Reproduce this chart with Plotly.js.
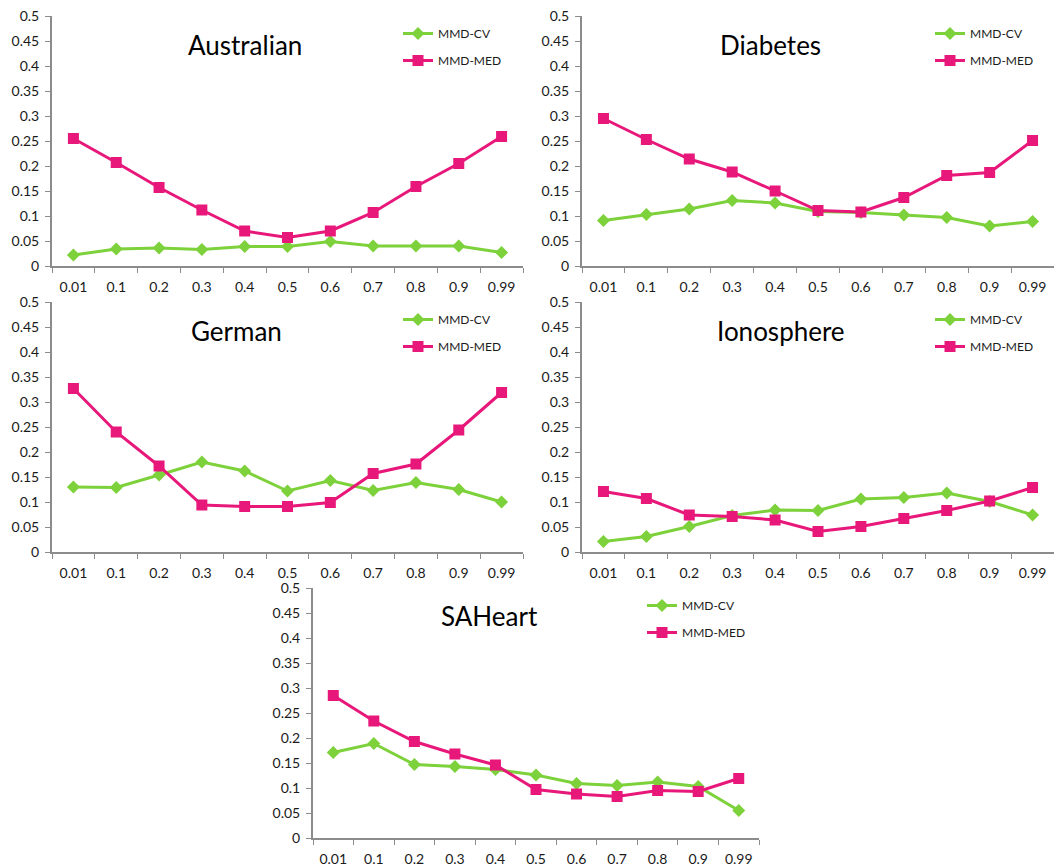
<!DOCTYPE html>
<html>
<head>
<meta charset="utf-8">
<script src="https://cdn.plot.ly/plotly-3.0.1.min.js"></script>
<style>html,body{margin:0;padding:0;background:#fff;}#chart{width:1055px;height:867px;}</style>
</head>
<body>
<div id="chart"></div>
<script>
const categories = ["0.01","0.1","0.2","0.3","0.4","0.5","0.6","0.7","0.8","0.9","0.99"];
const datasetNames = ["Australian","Diabetes","German","Ionosphere","SAHeart"];
const seriesNames = ["MMD-CV","MMD-MED"];

const australianCV  = [0.022,0.034,0.036,0.033,0.039,0.039,0.049,0.040,0.040,0.040,0.027];
const australianMED = [0.255,0.207,0.157,0.112,0.070,0.057,0.070,0.107,0.159,0.205,0.259];
const diabetesCV    = [0.091,0.103,0.114,0.131,0.126,0.109,0.107,0.102,0.097,0.080,0.089];
const diabetesMED   = [0.295,0.253,0.214,0.188,0.150,0.111,0.108,0.137,0.181,0.187,0.251];
const germanCV      = [0.130,0.129,0.154,0.180,0.162,0.122,0.143,0.123,0.139,0.125,0.100];
const germanMED     = [0.327,0.240,0.172,0.094,0.091,0.091,0.099,0.157,0.176,0.244,0.319];
const ionosphereCV  = [0.021,0.031,0.051,0.073,0.084,0.083,0.106,0.109,0.118,0.101,0.074];
const ionosphereMED = [0.121,0.107,0.074,0.071,0.064,0.041,0.051,0.067,0.083,0.102,0.129];
const saheartCV     = [0.171,0.189,0.147,0.143,0.137,0.126,0.109,0.105,0.112,0.103,0.055];
const saheartMED    = [0.285,0.234,0.193,0.168,0.146,0.097,0.088,0.083,0.095,0.093,0.119];

const yTickVals = [0,0.05,0.1,0.15,0.2,0.25,0.3,0.35,0.4,0.45,0.5];
const yTickText = ["0","0.05","0.1","0.15","0.2","0.25","0.3","0.35","0.4","0.45","0.5"];

const cvSeries  = [australianCV, diabetesCV, germanCV, ionosphereCV, saheartCV];
const medSeries = [australianMED, diabetesMED, germanMED, ionosphereMED, saheartMED];

const W = 1055, H = 867;
// panel pixel boxes: [left, right, top, bottom]
const boxes = [
  [52, 523, 16, 266],
  [582, 1054, 16, 266],
  [52, 523, 302, 552],
  [582, 1054, 302, 552],
  [313, 759, 588, 838]
];
const titlePos = [[245,45],[770,45],[236,331],[781,331],[489,616]];
const legendPos = [[398,19],[930,19],[398,305],[930,305],[642,591]];

const FONT = "Lato, 'Open Sans', sans-serif";
const GREEN = "#7DD13B";
const PINK = "#E8177A";
const AXIS = "#8C8C8C";

const traces = [];
const layout = {
  width: W, height: H,
  margin: {l:0, r:0, t:0, b:0},
  paper_bgcolor: "#fff", plot_bgcolor: "#fff",
  font: {family: FONT, size: 13, color: "#1a1a1a"},
  annotations: [],
  showlegend: true
};

for (let i = 0; i < 5; i++) {
  const b = boxes[i];
  const sfx = i === 0 ? "" : String(i + 1);
  const xa = "x" + sfx, ya = "y" + sfx;
  const lg = "legend" + sfx;
  traces.push({
    type: "scatter", mode: "lines+markers", x: categories, y: cvSeries[i],
    name: seriesNames[0], xaxis: xa, yaxis: ya, legend: lg, legendgroup: "cv" + i,
    line: {color: GREEN, width: 3},
    marker: {symbol: "diamond", size: 10, color: GREEN},
    cliponaxis: false
  });
  traces.push({
    type: "scatter", mode: "lines+markers", x: categories, y: medSeries[i],
    name: seriesNames[1], xaxis: xa, yaxis: ya, legend: lg, legendgroup: "med" + i,
    line: {color: PINK, width: 3},
    marker: {symbol: "square", size: 11, color: PINK},
    cliponaxis: false
  });
  layout["xaxis" + sfx] = {
    domain: [b[0] / W, b[1] / W],
    anchor: ya,
    type: "category",
    range: [-0.5, 10.5],
    showgrid: false, zeroline: false,
    showline: true, linecolor: AXIS, linewidth: 2,
    ticks: "outside", tickson: "boundaries", ticklen: 5, tickcolor: AXIS, tickwidth: 1,
    ticklabelstandoff: 7,
    tickfont: {family: FONT, size: 14, color: "#1a1a1a"},
    fixedrange: true
  };
  layout["yaxis" + sfx] = {
    domain: [1 - b[3] / H, 1 - b[2] / H],
    anchor: xa,
    range: [0, 0.5],
    tickvals: yTickVals, ticktext: yTickText,
    showgrid: false, zeroline: false,
    showline: true, linecolor: AXIS, linewidth: 2,
    ticks: "outside", ticklen: 5, tickcolor: AXIS, tickwidth: 1,
    ticklabelstandoff: 3,
    tickfont: {family: FONT, size: 14, color: "#1a1a1a"},
    fixedrange: true
  };
  layout.annotations.push({
    text: datasetNames[i], xref: "paper", yref: "paper",
    x: titlePos[i][0] / W, y: 1 - titlePos[i][1] / H,
    xanchor: "center", yanchor: "middle", showarrow: false,
    font: {family: FONT, size: 26, color: "#000"}
  });
  layout[lg] = {
    x: legendPos[i][0] / W, y: 1 - legendPos[i][1] / H,
    xanchor: "left", yanchor: "top",
    bgcolor: "rgba(0,0,0,0)", borderwidth: 0,
    font: {family: FONT, size: 12, color: "#1a1a1a"},
    traceorder: "grouped", tracegroupgap: 8,
    itemwidth: 30
  };
}

Plotly.newPlot("chart", traces, layout, {displayModeBar: false, staticPlot: true});
</script>
</body>
</html>
